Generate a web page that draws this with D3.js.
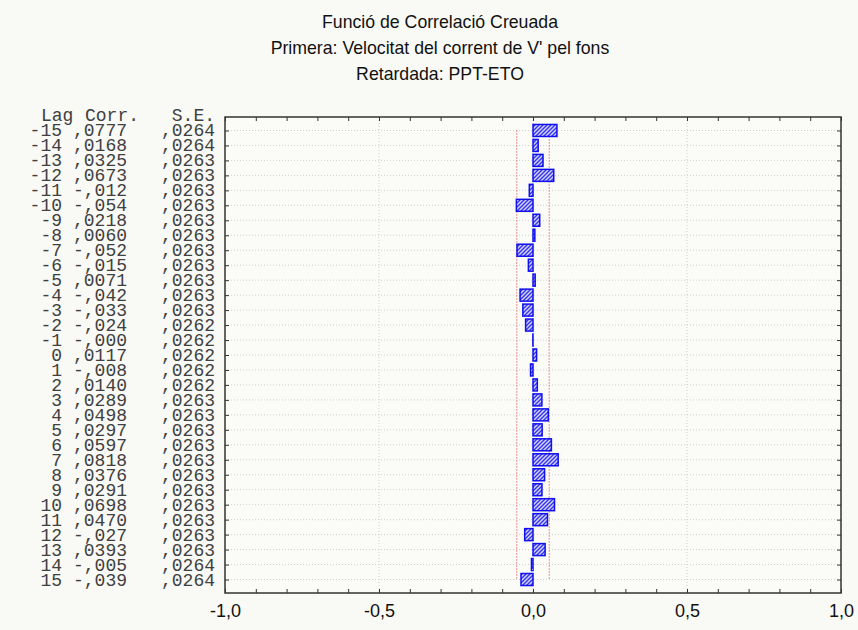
<!DOCTYPE html>
<html>
<head>
<meta charset="utf-8">
<script src="https://cdn.jsdelivr.net/npm/d3@7"></script>
<style>
  body { margin: 0; background: #f9f9f5; }
  svg { display: block; }
  .mono { font-family: "Liberation Mono", "DejaVu Sans Mono", monospace; font-size: 18px; fill: #404040; }
  .sans { font-family: "Liberation Sans", Arial, sans-serif; fill: #111; }
</style>
</head>
<body>
<svg id="chart" width="858" height="630"></svg>
<script>
// chart data
const titleLines = [
  "Funció de Correlació Creuada",
  "Primera: Velocitat del corrent de V' pel fons",
  "Retardada: PPT-ETO"
];
const lags = d3.range(-15, 16);
const corr = [0.0777, 0.0168, 0.0325, 0.0673, -0.012, -0.054, 0.0218, 0.0060, -0.052, -0.015,
              0.0071, -0.042, -0.033, -0.024, -0.0004, 0.0117, -0.008, 0.0140, 0.0289, 0.0498,
              0.0297, 0.0597, 0.0818, 0.0376, 0.0291, 0.0698, 0.0470, -0.027, 0.0393, -0.005, -0.039];
const se = [0.0264, 0.0264, 0.0263, 0.0263, 0.0263, 0.0263, 0.0263, 0.0263, 0.0263, 0.0263,
            0.0263, 0.0263, 0.0263, 0.0262, 0.0262, 0.0262, 0.0262, 0.0262, 0.0263, 0.0263,
            0.0263, 0.0263, 0.0263, 0.0263, 0.0263, 0.0263, 0.0263, 0.0263, 0.0263, 0.0264, 0.0264];
const xTickLabels = [-1, -0.5, 0, 0.5, 1];
const headers = ["Lag", "Corr.", "S.E."];

const rows = lags.map((lag, i) => ({ lag, corr: corr[i], se: se[i] }));

const svg = d3.select('#chart');
const plot = { left: 225, right: 841, top: 117, bottom: 593 };

const x = d3.scaleLinear().domain([-1, 1]).range([plot.left, plot.right]);
const y = d3.scalePoint().domain(lags).range([plot.top, plot.bottom]).padding(0.9);

// statistica style number format: ",0777" / "-,012"
const fmtCorr = v => (v < 0 ? '-' + Math.abs(v).toFixed(3).slice(1) : v.toFixed(4).slice(1)).replace('.', ',');
const fmtSe = v => v.toFixed(4).slice(1).replace('.', ',');
const fmtTick = v => v.toFixed(1).replace('.', ',');

// hatch pattern for the bars
const defs = svg.append('defs');
const pat = defs.append('pattern')
  .attr('id', 'hatch')
  .attr('patternUnits', 'userSpaceOnUse')
  .attr('width', 4).attr('height', 4);
pat.append('rect').attr('width', 4).attr('height', 4).attr('fill', '#d4d4ff');
pat.append('path')
  .attr('d', 'M-1,1 l2,-2 M0,4 l4,-4 M3,5 l2,-2')
  .attr('stroke', '#3434ec').attr('stroke-width', 1.4);

// titles
svg.append('g').selectAll('text')
  .data(titleLines)
  .join('text')
  .attr('class', 'sans')
  .attr('x', 440)
  .attr('y', (d, i) => 28 + i * 26)
  .attr('text-anchor', 'middle')
  .style('font-size', '17.7px')
  .text(d => d);

// plot background
svg.append('rect')
  .attr('x', plot.left).attr('y', plot.top)
  .attr('width', plot.right - plot.left).attr('height', plot.bottom - plot.top)
  .attr('fill', '#fbfbf8');

// horizontal dotted grid at every lag
svg.append('g').selectAll('line')
  .data(lags)
  .join('line')
  .attr('x1', plot.left).attr('x2', plot.right)
  .attr('y1', d => y(d)).attr('y2', d => y(d))
  .attr('stroke', '#cfcfcf').attr('stroke-width', 1)
  .attr('stroke-dasharray', '1,2');

// vertical dotted grid at the labelled ticks
svg.append('g').selectAll('line')
  .data(xTickLabels.filter(d => d > -1 && d < 1))
  .join('line')
  .attr('x1', d => x(d)).attr('x2', d => x(d))
  .attr('y1', plot.top).attr('y2', plot.bottom)
  .attr('stroke', '#cfcfcf').attr('stroke-width', 1)
  .attr('stroke-dasharray', '1,2');

// +-2 S.E. limits
const limit = sign => d3.line().x(d => x(sign * 2 * d.se)).y(d => y(d.lag));
[-1, 1].forEach(s => {
  svg.append('path')
    .datum(rows)
    .attr('d', limit(s))
    .attr('fill', 'none')
    .attr('stroke', '#e02828').attr('stroke-width', 1)
    .attr('stroke-dasharray', '1,2');
});

// bars
const barH = 12;
svg.append('g').selectAll('rect')
  .data(rows)
  .join('rect')
  .attr('x', d => x(Math.min(0, d.corr)))
  .attr('y', d => y(d.lag) - barH / 2)
  .attr('width', d => Math.abs(x(d.corr) - x(0)))
  .attr('height', barH)
  .attr('fill', 'url(#hatch)')
  .attr('stroke', '#1010f0').attr('stroke-width', 1.5);

// frame with inward ticks
const tickVals = d3.range(-10, 11).map(d => d / 10);
svg.append('g')
  .attr('transform', `translate(0,${plot.bottom})`)
  .call(d3.axisBottom(x).tickValues(tickVals).tickSize(-4).tickFormat(''))
  .call(g => g.select('.domain').remove());
svg.append('g')
  .attr('transform', `translate(0,${plot.top})`)
  .call(d3.axisTop(x).tickValues(tickVals).tickSize(-4).tickFormat(''))
  .call(g => g.select('.domain').remove());
svg.append('g')
  .attr('transform', `translate(${plot.left},0)`)
  .call(d3.axisLeft(y).tickSize(-4).tickFormat(''))
  .call(g => g.select('.domain').remove());
svg.append('g')
  .attr('transform', `translate(${plot.right},0)`)
  .call(d3.axisRight(y).tickSize(-4).tickFormat(''))
  .call(g => g.select('.domain').remove());
svg.selectAll('.tick line').attr('stroke', '#333');

svg.append('rect')
  .attr('x', plot.left).attr('y', plot.top)
  .attr('width', plot.right - plot.left).attr('height', plot.bottom - plot.top)
  .attr('fill', 'none').attr('stroke', '#333').attr('stroke-width', 1.5);

// x tick labels
svg.append('g')
  .attr('transform', `translate(0,${plot.bottom})`)
  .call(d3.axisBottom(x).tickValues(xTickLabels).tickSize(0).tickPadding(11).tickFormat(fmtTick))
  .call(g => g.select('.domain').remove())
  .selectAll('text')
  .attr('class', 'sans')
  .attr('fill', '#111')
  .style('font-size', '18px');

// left table: Lag / Corr. / S.E.
const table = svg.append('g');
table.append('text').attr('class', 'mono').attr('x', 41).attr('y', y(-15) - 9).text(headers[0]);
table.append('text').attr('class', 'mono').attr('x', 85).attr('y', y(-15) - 9).text(headers[1]);
table.append('text').attr('class', 'mono').attr('x', 215).attr('y', y(-15) - 9)
  .attr('text-anchor', 'end').text(headers[2]);

const rowG = table.selectAll('g.row')
  .data(rows)
  .join('g')
  .attr('class', 'row')
  .attr('transform', d => `translate(0,${y(d.lag) + 6})`);
rowG.append('text').attr('class', 'mono').attr('x', 62).attr('text-anchor', 'end').text(d => d.lag);
rowG.append('text').attr('class', 'mono').attr('x', 127).attr('text-anchor', 'end').text(d => fmtCorr(d.corr));
rowG.append('text').attr('class', 'mono').attr('x', 215).attr('text-anchor', 'end').text(d => fmtSe(d.se));
</script>
</body>
</html>
